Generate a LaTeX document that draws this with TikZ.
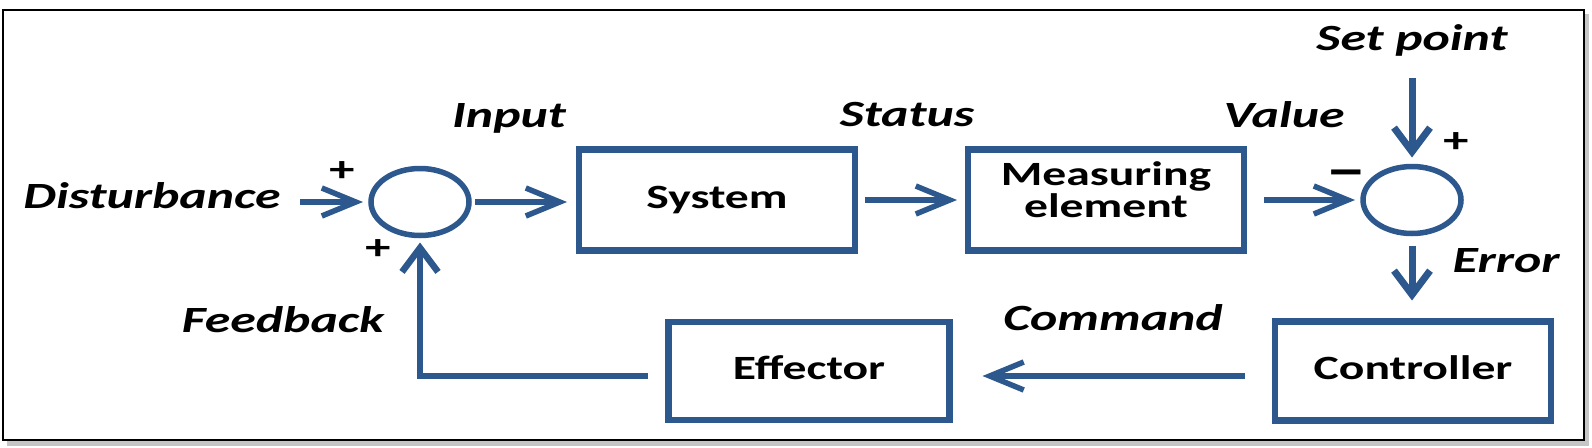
\documentclass[tikz,border=0pt]{standalone}
\usepackage{fontspec}
\setmainfont{Carlito}
\newfontfamily\calst{Carlito}[FakeStretch=1.4]
\usetikzlibrary{arrows.meta,shapes.geometric}
\definecolor{bl}{RGB}{44,88,142}
\tikzset{
 blk/.style={draw=bl, line width=6.5pt, minimum width=276pt, minimum height=101pt,
   inner sep=0pt, outer sep=0pt, align=center, text height=24pt, text depth=7pt,
   font=\calst\bfseries\fontsize{34}{32}\selectfont},
 sumn/.style={ellipse, draw=bl, line width=5.5pt, minimum width=98pt, minimum height=67pt,
   inner sep=0pt, outer sep=0pt},
 lbl/.style={font=\calst\bfseries\itshape\fontsize{37}{40}\selectfont, anchor=base, inner sep=0pt},
 sgn/.style={font=\calst\bfseries\fontsize{36}{40}\selectfont, inner sep=0pt},
 harr/.style={draw=bl, line width=5.5pt, -{Straight Barb[length=34pt,width=28pt]}},
 varr/.style={draw=bl, line width=7pt, -{Straight Barb[length=24pt,width=36pt]}},
 fbarr/.style={draw=bl, line width=6.5pt, -{Straight Barb[length=24pt,width=36pt]}},
}
\begin{document}
\begin{tikzpicture}[x=1pt,y=-1pt]
\useasboundingbox (0,0) rectangle (1592,447);
\fill[gray!45] (7,14) rectangle (1589,446);
\filldraw[fill=white, draw=black, line width=2.5pt] (3,10) rectangle (1584,440);

\node[sumn] (s1) at (420,202) {};
\node[blk] (sys) at (717,200) {System};
\node[blk, text height=56pt, text depth=22pt] (meas) at (1106,200) {Measuring\\element};
\node[sumn] (s2) at (1412,200) {};
\node[blk, minimum width=281pt, minimum height=98pt] (eff) at (809,371) {Effector};
\node[blk, minimum height=99pt] (ctrl) at (1413,371) {Controller};

\node[lbl] (dist) at (152,208) {Disturbance};
\node[lbl] (inp) at (509,127) {Input};
\node[lbl] (stat) at (907,126) {Status};
\node[lbl] (val) at (1284,127) {Value};
\node[lbl] (setp) at (1412,50) {Set point};
\node[lbl] (err) at (1506,272) {Error};
\node[lbl] (cmd) at (1113,330) {Command};
\node[lbl] (fb) at (283,332) {Feedback};

\node[sgn] (p1) at (342,172) {+};
\node[sgn] (p2) at (378,250) {+};
\node[sgn] (p3) at (1456,143) {+};
\node[sgn, font=\calst\bfseries\fontsize{54}{56}\selectfont] (m1) at (1346,180) {−};

\coordinate (dsrc) at (300,202);
\coordinate (spsrc) at (1412,78);
\draw[harr, shorten >=8pt] (dsrc) -- (s1.west);
\draw[harr, shorten <=6pt, shorten >=12pt] (s1.east) -- (s1.east -| sys.west);
\draw[harr, shorten <=10pt, shorten >=11pt] (sys.east) -- (meas.west);
\draw[harr, shorten <=20pt, shorten >=8pt] (meas.east) -- (s2.west);
\draw[varr, shorten >=9pt] (spsrc) -- (s2.north);
\draw[varr, shorten <=12pt, shorten >=21pt] (s2.south) -- (s2.south |- ctrl.north);
\draw[harr, shorten <=30pt, shorten >=33pt] ([yshift=-5pt]ctrl.west) -- ([yshift=-5pt]eff.east);
\draw[fbarr, shorten <=21pt, shorten >=7pt] ([yshift=-5pt]eff.west) -| (s1.south);
\end{tikzpicture}
\end{document}
